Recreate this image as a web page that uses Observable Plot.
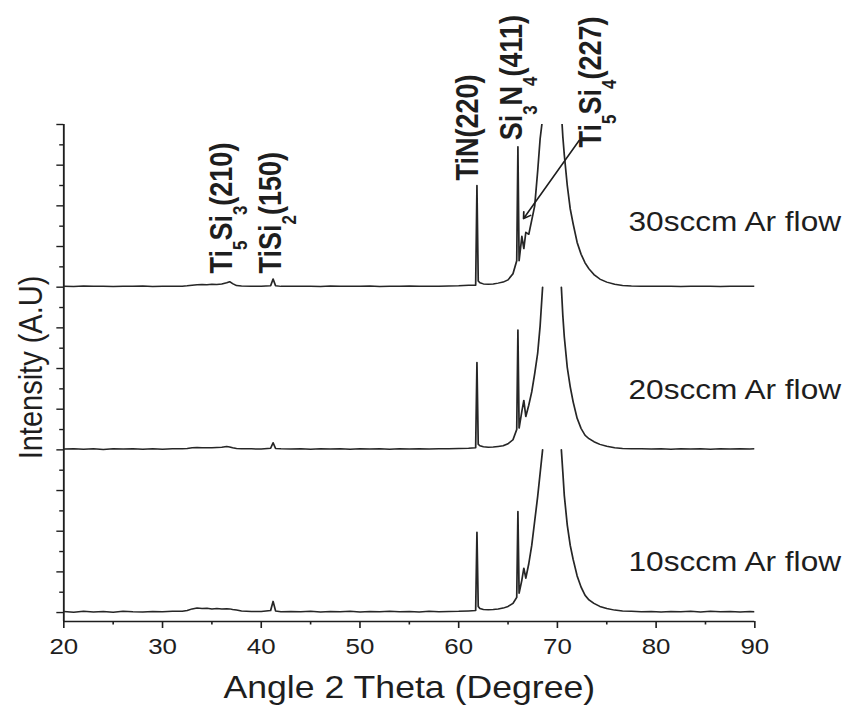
<!DOCTYPE html>
<html><head><meta charset="utf-8">
<script src="https://cdn.jsdelivr.net/npm/d3@7"></script>
<script src="https://cdn.jsdelivr.net/npm/@observablehq/plot@0.6"></script>
<style>
html,body{margin:0;padding:0;background:#fff;}
#chart svg{display:block;}
</style></head><body><div id="chart"></div>
<script>
// 2-theta angles (degrees), shared by the three diffractograms
const angle = [
  20,21,22,23,24,25,26,27,28,29,30,31,
  32,32.5,33,33.5,34,34.5,35,35.5,36,36.5,36.8,37.1,37.5,
  38,39,40,40.95,41.2,41.45,42,43,
  44,45,46,47,48,49,50,51,52,53,54,55,56,57,58,59,60,61,
  61.72,61.85,61.98,62.15,62.5,63,63.5,64,64.5,65,65.5,
  65.88,66.0,66.12,66.4,66.6,66.8,67.1,67.4,67.7,68.0,68.25,68.5,
  69.4,
  70.4,70.55,70.7,71.0,71.3,71.6,72.0,72.4,72.8,73.2,73.7,74.3,75.0,75.8,76.6,
  77.5,78.5,79.5,80.5,81.5,82.5,83.5,84.5,85.5,86.5,87.5,88.5,89.5,90
];
// intensities (arbitrary units above each trace's own baseline); null = off scale
const flow10 = [
  0.05,0.02,0.06,0.03,0.05,0.02,0.06,0.04,0.03,0.05,0.04,0.06,
  0.06,0.1,0.18,0.22,0.2,0.21,0.18,0.2,0.17,0.19,0.18,0.15,0.12,
  0.08,0.05,0.05,0.1,0.55,0.08,0.04,0.05,
  0.04,0.06,0.03,0.05,0.04,0.06,0.03,0.05,0.04,0.06,0.04,0.05,0.03,0.06,0.04,0.05,0.06,0.08,
  0.1,3.95,0.3,0.2,0.15,0.14,0.15,0.18,0.22,0.3,0.45,
  0.75,4.97,0.95,1.6,2.18,1.69,2.4,3.3,4.5,5.7,6.85,8.0,
  null,
  8.0,6.9,5.75,4.3,3.3,2.6,1.8,1.25,0.85,0.62,0.45,0.3,0.2,0.12,0.08,
  0.06,0.04,0.05,0.03,0.05,0.04,0.06,0.03,0.07,0.04,0.05,0.03,0.05,0.04
];
const flow20 = [
  0.04,0.06,0.03,0.05,0.02,0.05,0.04,0.06,0.03,0.05,0.03,0.05,
  0.05,0.07,0.1,0.12,0.1,0.11,0.1,0.12,0.13,0.16,0.14,0.1,0.07,
  0.06,0.05,0.04,0.08,0.35,0.07,0.05,0.04,
  0.05,0.03,0.05,0.04,0.06,0.03,0.05,0.04,0.05,0.03,0.06,0.04,0.05,0.04,0.06,0.05,0.07,0.08,
  0.1,4.3,0.28,0.2,0.15,0.13,0.14,0.17,0.2,0.3,0.5,
  1.0,5.9,1.07,1.9,2.43,1.64,2.2,2.85,3.75,4.75,6.1,8.0,
  null,
  8.0,6.6,5.55,4.05,3.1,2.35,1.55,1.05,0.72,0.55,0.4,0.27,0.18,0.1,0.07,
  0.05,0.06,0.04,0.05,0.03,0.05,0.04,0.05,0.03,0.05,0.04,0.06,0.04,0.05
];
const flow30 = [
  0.05,0.03,0.06,0.04,0.05,0.03,0.05,0.04,0.06,0.03,0.05,0.04,
  0.05,0.07,0.1,0.12,0.13,0.12,0.14,0.13,0.16,0.22,0.27,0.18,0.08,
  0.06,0.05,0.04,0.07,0.4,0.07,0.04,0.05,
  0.04,0.05,0.03,0.06,0.04,0.05,0.04,0.06,0.03,0.05,0.04,0.06,0.05,0.04,0.05,0.06,0.07,0.09,
  0.1,5.0,0.3,0.22,0.16,0.15,0.16,0.2,0.25,0.36,0.66,
  1.3,6.9,1.3,2.5,1.9,2.7,2.6,3.3,4.0,5.7,7.3,8.3,
  null,
  8.6,7.4,6.5,5.0,3.85,3.1,2.2,1.62,1.2,0.9,0.62,0.4,0.25,0.14,0.08,
  0.06,0.05,0.04,0.05,0.04,0.03,0.05,0.04,0.05,0.03,0.05,0.04,0.05,0.04
];
const seriesNames = ["10sccm Ar flow", "20sccm Ar flow", "30sccm Ar flow"];
const seriesValues = [flow10, flow20, flow30];
const seriesOffset = [0, 8, 16];        // vertical stacking of the traces
const seriesLabelLift = [2.47, 2.92, 3.18];
const seriesLabelAngle = 77.2;

const peakNames = ["TiN(220)", "Si_3N_4(411)", "Ti_5Si_4(227)", "Ti_5Si_3(210)", "TiSi_2(150)"];
const peakLabelAngle = [61.0, 65.45, 73.45, 36.05, 41.0];
const peakLabelLevel = [21.25, 23.22, 22.87, 16.67, 16.67];
const pointer = {x1: 72.21, y1: 23.22, x2: 66.57, y2: 19.37};

const xMajorTicks = [20, 30, 40, 50, 60, 70, 80, 90];
const xMinorTicks = [25, 35, 45, 55, 65, 75, 85];
const yMajorTicks = [0, 2, 4, 6, 8, 10, 12, 14, 16, 18, 20, 22, 24];
const yMinorTicks = [1, 3, 5, 7, 9, 11, 13, 15, 17, 19, 21, 23];
const xDomain = [20, 90];
const yDomain = [-0.44, 24];
const yTitleLevel = 12.05;

seriesValues.forEach((v, i) => {
  if (v.length !== angle.length) throw new Error(`series ${i} length ${v.length} != ${angle.length}`);
});

const rows = [];
seriesValues.forEach((vals, i) => {
  vals.forEach((v, j) => rows.push({
    series: seriesNames[i], angle: angle[j],
    value: v == null ? NaN : v + seriesOffset[i]
  }));
});
const seriesLabels = seriesNames.map((name, i) => ({name, x: seriesLabelAngle, y: seriesOffset[i] + seriesLabelLift[i]}));
const peakLabels = peakNames.map((name, i) => ({name, x: peakLabelAngle[i], y: peakLabelLevel[i]}));

const W = 741, H = 707, OUT_W = 852;
const ink = "#1e1e1e";
const font = "'Liberation Sans', Arial, Helvetica, sans-serif";

const svg = Plot.plot({
  width: W, height: H,
  marginLeft: 55, marginRight: 85, marginTop: 124, marginBottom: 86,
  x: {domain: xDomain, label: null},
  y: {domain: yDomain, label: null},
  style: {fontFamily: font, background: "#fff", color: ink},
  marks: [
    Plot.axisX(xMajorTicks, {anchor: "bottom", tickSize: 7, tickPadding: 10, fontSize: 22.5, label: null, stroke: ink, fill: ink, strokeWidth: 1.4}),
    Plot.axisX(xMinorTicks, {anchor: "bottom", tickSize: 3.5, tickFormat: () => "", label: null, stroke: ink, strokeWidth: 1.4}),
    Plot.axisY(yMajorTicks, {anchor: "left", tickSize: 6, tickFormat: () => "", label: null, stroke: ink, strokeWidth: 1.4}),
    Plot.axisY(yMinorTicks, {anchor: "left", tickSize: 3.5, tickFormat: () => "", label: null, stroke: ink, strokeWidth: 1.4}),
    Plot.ruleX([xDomain[0]], {stroke: ink, strokeWidth: 1.6}),
    Plot.ruleY([yDomain[0]], {stroke: ink, strokeWidth: 1.6}),
    Plot.line(rows, {x: "angle", y: "value", z: "series", stroke: "#262626", strokeWidth: 1.5, clip: true}),
    Plot.text(seriesLabels, {x: "x", y: "y", text: "name", textAnchor: "start", lineAnchor: "middle", fontSize: 27.5, fill: ink}),
    Plot.text(peakLabels, {x: "x", y: "y", text: "name", rotate: -90, textAnchor: "start", lineAnchor: "middle",
      fontSize: 27, fontWeight: "bold", fill: ink}),
    Plot.arrow([pointer], {x1: "x1", y1: "y1", x2: "x2", y2: "y2", stroke: ink, strokeWidth: 1.5, headLength: 7, inset: 0}),
    Plot.text(["Angle 2 Theta (Degree)"], {frameAnchor: "bottom", lineAnchor: "top", dy: 54, fontSize: 31, fill: ink}),
    Plot.text([{t: "Intensity (A.U)", x: xDomain[0], y: yTitleLevel}], {x: "x", y: "y", text: "t", rotate: -90, lineAnchor: "middle", dx: -28, fontSize: 29, fill: ink})
  ]
});

// chemical-formula subscripts in the peak labels ("_n" marks a subscript digit)
const NS = "http://www.w3.org/2000/svg";
svg.querySelectorAll("text").forEach(t => {
  if (t.children.length || !t.textContent.includes("_")) return;
  const parts = t.textContent.split(/_(\d)/);
  t.textContent = "";
  parts.forEach((p, i) => {
    if (!p) return;
    const ts = document.createElementNS(NS, "tspan");
    ts.textContent = p;
    if (i % 2 === 1) { ts.setAttribute("font-size", "17"); ts.setAttribute("dy", "13"); }
    else if (i > 0) ts.setAttribute("dy", "-13");
    t.appendChild(ts);
  });
});

// the reference figure is horizontally stretched; reproduce that aspect
svg.setAttribute("width", OUT_W);
svg.setAttribute("height", H);
svg.setAttribute("preserveAspectRatio", "none");
svg.style.width = OUT_W + "px";
svg.style.height = H + "px";
svg.style.maxWidth = "none";
document.getElementById("chart").appendChild(svg);
</script>
</body></html>
